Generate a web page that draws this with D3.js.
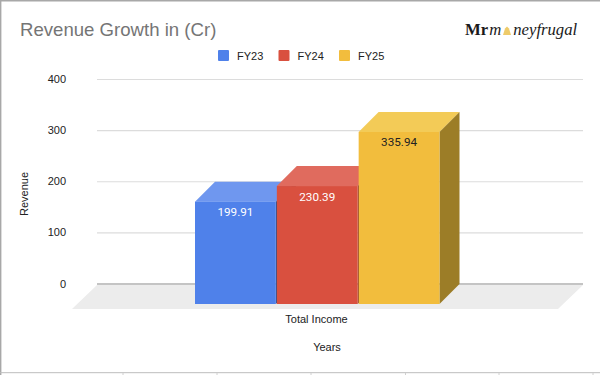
<!DOCTYPE html>
<html><head><meta charset="utf-8">
<script src="https://cdn.jsdelivr.net/npm/d3@7"></script>
<style>html,body{margin:0;padding:0;background:#fff}svg{display:block}text{font-family:"Liberation Sans",Arial,sans-serif}</style>
</head><body><svg id="c" width="600" height="375"></svg>
<script>
const categories = ["Total Income"];
const seriesNames = ["FY23", "FY24", "FY25"];
const seriesValues = [199.91, 230.39, 335.94];
const valueLabels = ["199.91", "230.39", "335.94"];
const labelColors = ["#ffffff", "#ffffff", "#222222"];
const frontColors = ["#4f81ea", "#d9503f", "#f2bd3d"];
const topColors = ["#6f97ef", "#e06b5e", "#f3cb57"];
const sideColors = ["#30508f", "#8a3228", "#9c7d27"];
const yTicks = [0, 100, 200, 300, 400];
const bottomMarks = [123, 217, 311, 405.5, 499, 593];

const svg = d3.select("#c");
const depthX = 20, depthY = 20;
const yFront = d3.scaleLinear().domain([0, 400]).range([304, 99.2]);
const yBack = d3.scaleLinear().domain([0, 400]).range([284, 79.5]);
const x1 = d3.scaleBand().domain(seriesNames).range([195, 439.5]).paddingInner(0.012);

// frame
svg.append("path").attr("d","M0.7,375V0.7H600").attr("fill","none").attr("stroke","#a8a8a8").attr("stroke-width",1.4);
svg.append("line").attr("x1",0).attr("x2",600).attr("y1",372.7).attr("y2",372.7).attr("stroke","#bdbdbd").attr("stroke-width",1);
svg.selectAll(".bm").data(bottomMarks).join("line").attr("x1",d=>d).attr("x2",d=>d).attr("y1",373).attr("y2",375).attr("stroke","#d0d0d0");

// title
svg.append("text").attr("x",20).attr("y",36).attr("font-size",18.6).attr("fill","#757575").text("Revenue Growth in (Cr)");

// logo
const logo = svg.append("text").attr("x",465).attr("y",35).attr("font-size",16.7).attr("fill","#1a1a1a").style("font-family","'Liberation Serif',serif");
logo.append("tspan").attr("font-weight","bold").text("Mr");
logo.append("tspan").attr("font-style","italic").attr("dx",1).text("m");
logo.append("tspan").attr("font-style","italic").attr("dx",12).text("neyfrugal");
svg.append("path").attr("d","M503,35L505,28.5L507,26.5L509,28.5L511,35Z").attr("fill","#eecb6a");

// legend
const legendX = d3.scalePoint().domain(seriesNames).range([218, 339]);
const lg = svg.selectAll(".lg").data(seriesNames).join("g").attr("transform",d=>`translate(${legendX(d)},50)`);
lg.append("rect").attr("width",11).attr("height",11).attr("rx",1).attr("fill",(d,i)=>frontColors[i]);
lg.append("text").attr("x",19).attr("y",10).attr("font-size",11).attr("fill","#222").text(d=>d);

// grid
svg.selectAll(".grid").data(yTicks.filter(d=>d>0)).join("line")
  .attr("x1",97).attr("x2",583).attr("y1",d=>yBack(d)).attr("y2",d=>yBack(d))
  .attr("stroke","#dcdcdc").attr("stroke-width",1.2);
svg.selectAll(".tick").data(yTicks).join("text")
  .attr("x",66).attr("y",d=>yBack(d)+3.5).attr("text-anchor","end").attr("font-size",11).attr("fill","#222").text(d=>d);

// floor
svg.append("path").attr("d","M97,285L583,285L558,309L72,309Z").attr("fill","#ececec");
svg.append("line").attr("x1",97).attr("x2",583).attr("y1",yBack(0)).attr("y2",yBack(0)).attr("stroke","#b0b0b0").attr("stroke-width",1.4);

// bars
const bars = svg.selectAll(".bar").data(seriesNames).join("g");
bars.each(function(name,i){
  const g = d3.select(this), v = seriesValues[i];
  const l = x1(name), r = l + x1.bandwidth(), t = yFront(v), b = yFront(0);
  g.append("path").attr("d",`M${l},${t}L${l+depthX},${t-depthY}L${r+depthX},${t-depthY}L${r},${t}Z`).attr("fill",topColors[i]);
  g.append("path").attr("d",`M${r},${t}L${r+depthX},${t-depthY}L${r+depthX},${b-depthY}L${r},${b}Z`).attr("fill",sideColors[i]);
  g.append("rect").attr("x",l).attr("y",t).attr("width",r-l).attr("height",b-t).attr("fill",frontColors[i]);
});
bars.append("text").attr("x",d=>x1(d)+x1.bandwidth()/2).attr("y",(d,i)=>yFront(seriesValues[i])+14.5)
  .attr("text-anchor","middle").attr("font-size",11.7).style("font-family","Roboto,sans-serif")
  .attr("fill",(d,i)=>labelColors[i]).text((d,i)=>valueLabels[i]);

// axis labels
svg.selectAll(".cat").data(categories).join("text").attr("x",316.5).attr("y",323).attr("text-anchor","middle").attr("font-size",11).attr("fill","#222").text(d=>d);
svg.append("text").attr("x",327).attr("y",351).attr("text-anchor","middle").attr("font-size",11).attr("fill","#222").text("Years");
svg.append("text").attr("transform","translate(28,194) rotate(-90)").attr("text-anchor","middle").attr("font-size",11).attr("fill","#222").text("Revenue");
</script></body></html>
